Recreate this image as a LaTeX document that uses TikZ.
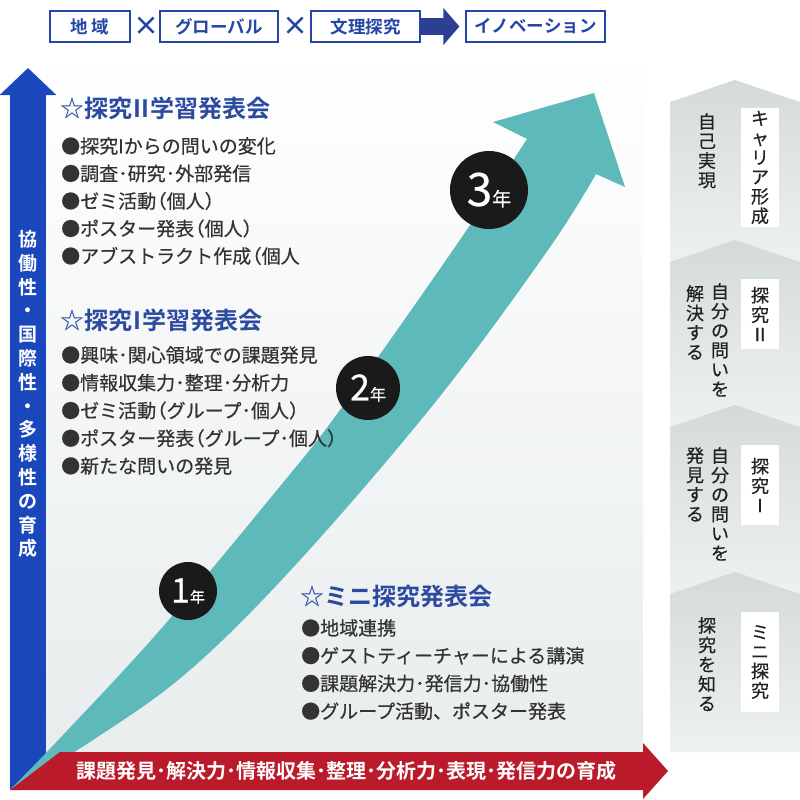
\documentclass[tikz,border=0pt]{standalone}
\usepackage{fontspec}
\setmainfont{Noto Sans CJK JP}[BoldFont={Noto Sans CJK JP Bold}]
\newfontfamily\jpmid{Noto Sans CJK JP}[FakeBold=0.5]
\definecolor{navyblue}{HTML}{2546A6}
\definecolor{arrowblue}{HTML}{1B47BC}
\definecolor{darknavy}{HTML}{2C3F93}
\definecolor{tealup}{HTML}{5EB9BA}
\definecolor{deepred}{HTML}{BA1A29}
\definecolor{headblue}{HTML}{2C4AA0}
\definecolor{textgray}{HTML}{333333}
\definecolor{inkblack}{HTML}{222222}
\definecolor{yeardark}{HTML}{1A1A1A}
\definecolor{panelgray}{HTML}{E8ECED}
\definecolor{stepgray}{HTML}{D4DADA}
\definecolor{steplight}{HTML}{EEF1F1}
\usetikzlibrary{arrows.meta, positioning}
\newcommand{\lpar}{\kern-.45em（}

\begin{document}
\begin{tikzpicture}[x=1pt, y=-1pt,
    topbox/.style={draw=navyblue, line width=1.2pt, fill=white, text=navyblue,
                   font=\fontsize{17.5}{17.5}\selectfont\bfseries,
                   minimum height=31pt, inner sep=0pt},
    crossmark/.style={text=navyblue, font=\fontsize{26}{26}\selectfont\bfseries, inner sep=0pt},
    heading/.style={anchor=west, inner sep=0pt, text=headblue,
                    font=\fontsize{24}{24}\selectfont\bfseries},
    listline/.style={anchor=west, inner sep=0pt, text=textgray,
                     font=\jpmid\fontsize{19}{19}\selectfont},
    year/.style={circle, fill=yeardark, text=white, inner sep=0pt, font=\jpmid},
    tag/.style={fill=white, align=center, inner sep=0pt, minimum width=38pt,
                text=inkblack, font=\jpmid\fontsize{18}{19.5}\selectfont},
    tate/.style={align=center, anchor=north, inner sep=0pt, text=inkblack,
                 font=\jpmid\fontsize{18}{19.5}\selectfont},
    flowarr/.style={-{Triangle[length=16pt, width=36pt]}, line width=17pt, darknavy, shorten >=6pt},
    uparr/.style={-{Triangle[length=27pt, width=55pt]}, line width=36pt, arrowblue}
  ]
  \useasboundingbox (0,0) rectangle (800,800);
  \fill[white] (0,0) rectangle (800,800);

  % background panel
  \shade[top color=white, bottom color=panelgray] (46,48) rectangle (643,770);

  % steps on the right
  \foreach \ay/\by in {80/263, 240/428, 405/595, 572/752}
    \shade[top color=stepgray, bottom color=steplight]
      (670,\ay+22) -- (735,\ay) -- (800,\ay+22) -- (800,\by) -- (670,\by) -- cycle;

  % top bar
  \node[topbox, minimum width=80pt] (b1) at (90,26.5) {地 域};
  \node[crossmark] (x1) at (146,26.5) {×};
  \node[topbox, minimum width=118pt] (b2) at (219,26.5) {グローバル};
  \node[crossmark] (x2) at (295,26.5) {×};
  \node[topbox, minimum width=109pt] (b3) at (365.5,26.5) {文理探究};
  \node[topbox, minimum width=139pt] (b4) at (535.5,26.5) {イノベーション};
  \draw[flowarr] (b3) -- (b4);

  % vertical axis
  \coordinate (axisfoot) at (28,790);
  \coordinate (axistop) at (28,68);
  \draw[uparr] (axisfoot) -- (axistop);
  \node[text=white, align=center, inner sep=0pt,
        font=\fontsize{19}{23.8}\selectfont\bfseries] (growth) at (28,394)
    {協\\働\\性\\・\\国\\際\\性\\・\\多\\様\\性\\の\\育\\成};

  % rising arrow
  \fill[tealup] plot[smooth, tension=0.6] coordinates
      {(10,790) (63,735) (160,630) (277,490) (340,410) (453,250) (527,139)}
    -- (493,122) -- (594,93) -- (625,187) -- (596,174)
    -- plot[smooth, tension=0.6] coordinates
      {(596,174) (548,250) (437,400) (300,560) (190,670) (93,740) (10,790)}
    -- cycle;

  % horizontal axis
  \fill[deepred] (10,790) -- (60,752) -- (643,752) -- (643,743) -- (668,771)
    -- (643,799) -- (643,790) -- cycle;
  \node[text=white, inner sep=0pt, font=\fontsize{20}{20}\selectfont\bfseries] (skills)
    at (346,771) {課題発見･解決力･情報収集･整理･分析力･表現･発信力の育成};

  % years
  \node[year, minimum size=58pt] (y1) at (188,591)
    {{\fontsize{34}{34}\selectfont 1}{\fontsize{15}{15}\selectfont 年}};
  \node[year, minimum size=64pt] (y2) at (368,388)
    {{\fontsize{36}{36}\selectfont 2}{\fontsize{16}{16}\selectfont 年}};
  \node[year, minimum size=78pt] (y3) at (489,190)
    {{\fontsize{46}{46}\selectfont 3}{\fontsize{19}{19}\selectfont 年}};

  % presentations
  \node[heading] (h2) at (60,108) {☆探究\kern1pt II\kern1pt 学習発表会};
  \foreach \t [count=\i] in {●探究Iからの問いの変化, ●調査･研究･外部発信,
      ●ゼミ活動\lpar 個人）, ●ポスター発表\lpar 個人）, ●アブストラクト作成\lpar 個人}
    \node[listline] (two\i) at (61,{146+27.5*(\i-1)}) {\t};

  \node[heading] (h1) at (60,320) {☆探究\kern1pt I\kern1pt 学習発表会};
  \foreach \t [count=\i] in {●興味･関心領域での課題発見, ●情報収集力･整理･分析力,
      ●ゼミ活動\lpar グループ･個人）, ●ポスター発表\lpar グループ･個人）, ●新たな問いの発見}
    \node[listline] (one\i) at (61,{355+27.75*(\i-1)}) {\t};

  \node[heading] (h0) at (300,596) {☆ミニ探究発表会};
  \foreach \t [count=\i] in {●地域連携, ●ゲストティーチャーによる講演,
      ●課題解決力･発信力･協働性, ●グループ活動、ポスター発表}
    \node[listline] (mini\i) at (301,{628+27.7*(\i-1)}) {\t};

  % step labels
  \node[tag, minimum height=119pt] (t4) at (760,167.5) {キ\\ャ\\リ\\ア\\形\\成};
  \node[tate] (s4) at (707,113) {自\\己\\実\\現};

  \node[tag, minimum height=70pt] (t3) at (760,314) {探\\究\\Ⅱ};
  \node[tate] (s3a) at (720,283) {自\\分\\の\\問\\い\\を};
  \node[tate] (s3b) at (695,285) {解\\決\\す\\る};

  \node[tag, minimum height=80pt] (t2) at (760,485) {探\\究\\Ⅰ};
  \node[tate] (s2a) at (720,447) {自\\分\\の\\問\\い\\を};
  \node[tate] (s2b) at (695,447) {発\\見\\す\\る};

  \node[tag, minimum height=100pt] (t1) at (760,662) {ミ\\ニ\\探\\究};
  \node[tate] (s1) at (707,617) {探\\究\\を\\知\\る};
\end{tikzpicture}
\end{document}
